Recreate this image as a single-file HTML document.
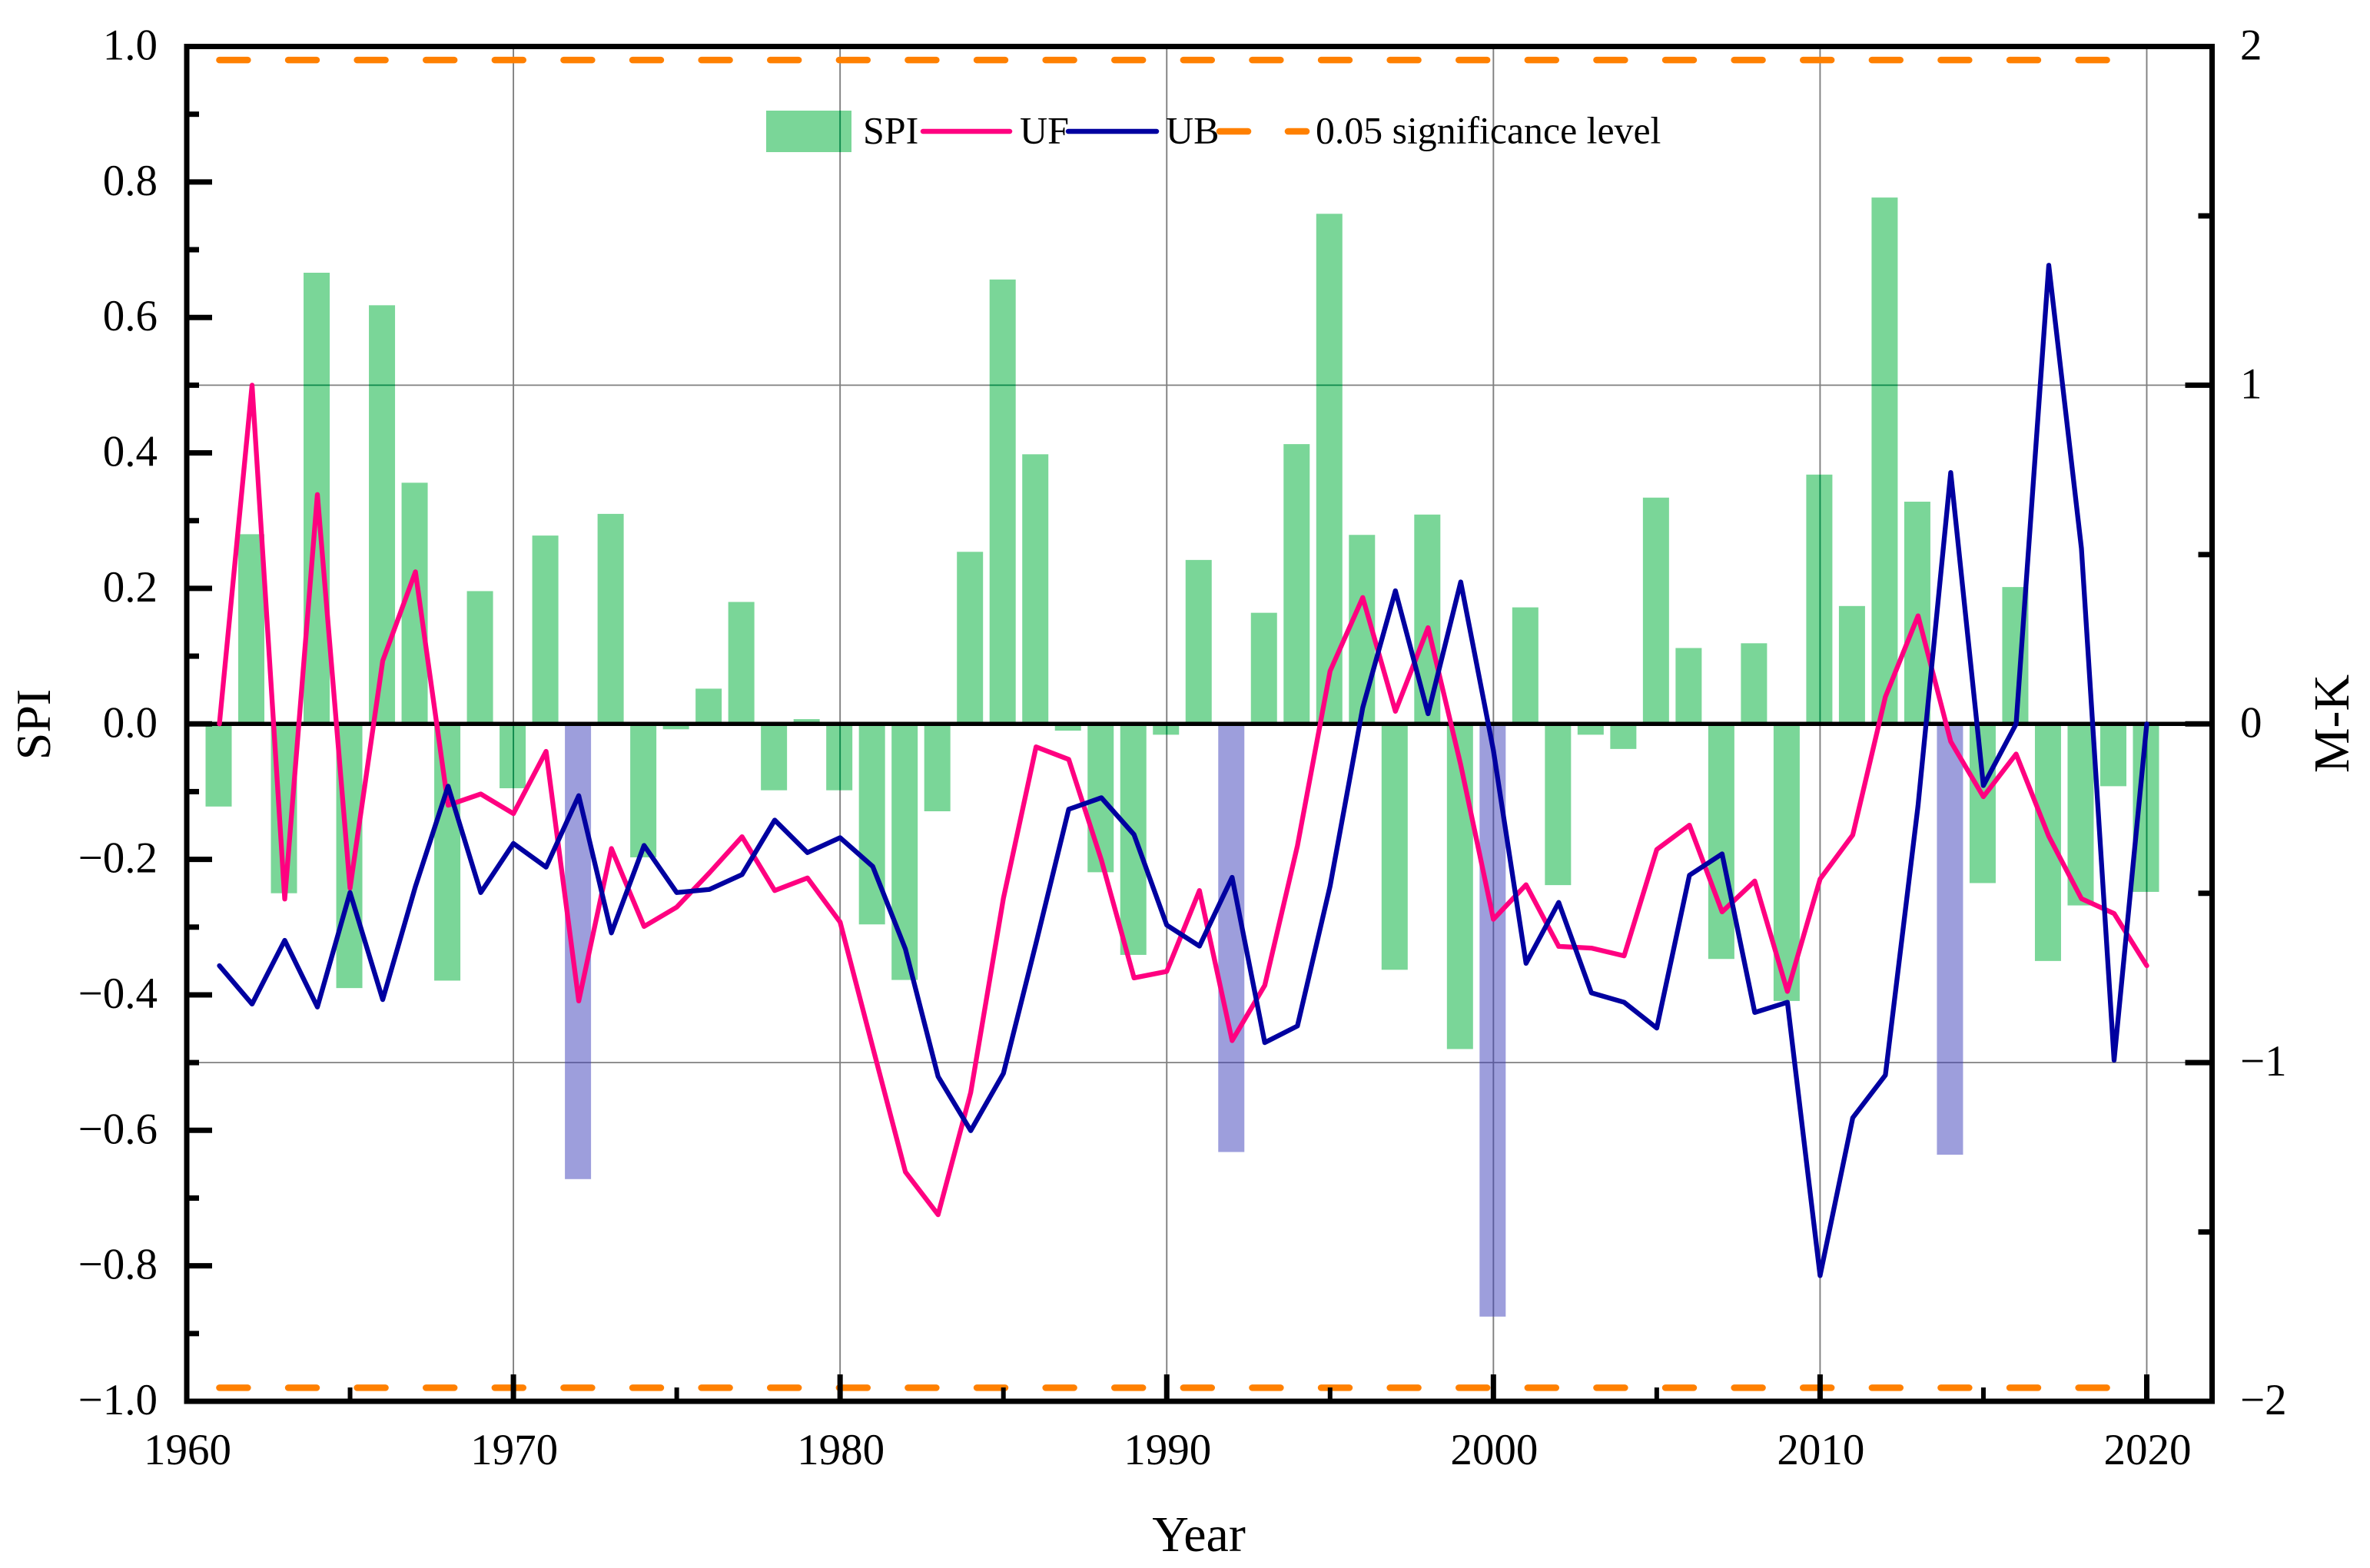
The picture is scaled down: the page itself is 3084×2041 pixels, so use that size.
<!DOCTYPE html>
<html lang="en">
<head>
<meta charset="utf-8">
<title>SPI and M-K trend, 1961–2020</title>
<style>
  html, body { margin: 0; padding: 0; background: #fff; width: 3084px; height: 2041px; overflow: hidden; }
  svg { display: block; }
  text { font-family: "Liberation Serif", "Times New Roman", serif; fill: #000; }
</style>
</head>
<body>
<svg id="chart" xmlns="http://www.w3.org/2000/svg" width="3084" height="2041" viewBox="0 0 3084 2041">
  <rect x="0" y="0" width="3084" height="2041" fill="#ffffff"/>
  <defs>
    <clipPath id="green-clip"><rect x="997" y="144" width="111" height="54"/></clipPath>
    <clipPath id="purple-clip"></clipPath>
  </defs>
  <g id="grid"></g>
  <g id="bars"></g>
  <g>
    <rect x="997" y="144" width="111" height="54" fill="#7AD698"/>
  </g>
  <g id="grid-green" clip-path="url(#green-clip)"></g>
  <g id="grid-purple" clip-path="url(#purple-clip)"></g>
  <g id="zero"></g>
  <g id="series"></g>
  <g id="axes"></g>
  <g font-size="50">
    <text x="1123" y="186.5" font-size="50">SPI</text>
    <line x1="1201" y1="171" x2="1314" y2="171" stroke="#FF0080" stroke-width="6.5" stroke-linecap="round"/>
    <text x="1327" y="186.5" font-size="50">UF</text>
    <line x1="1390" y1="171" x2="1505" y2="171" stroke="#0000A0" stroke-width="6.5" stroke-linecap="round"/>
    <text x="1517" y="186.5" font-size="50">UB</text>
    <line x1="1587" y1="171" x2="1624" y2="171" stroke="#FF8000" stroke-width="8.6" stroke-linecap="round"/>
    <line x1="1676" y1="171" x2="1700" y2="171" stroke="#FF8000" stroke-width="8.6" stroke-linecap="round"/>
    <text x="1712" y="186.5" font-size="49.8">0.05 significance level</text>
  </g>
  <text x="1560" y="2019" font-size="66" text-anchor="middle">Year</text>
  <text transform="translate(65 943) rotate(-90)" font-size="64" text-anchor="middle">SPI</text>
  <text transform="translate(3056 942) rotate(-90)" font-size="66" text-anchor="middle">M-K</text>
</svg>
<script>
// ---- chart data ----
const years = [1961,1962,1963,1964,1965,1966,1967,1968,1969,1970,1971,1972,1973,1974,1975,1976,1977,1978,1979,1980,1981,1982,1983,1984,1985,1986,1987,1988,1989,1990,1991,1992,1993,1994,1995,1996,1997,1998,1999,2000,2001,2002,2003,2004,2005,2006,2007,2008,2009,2010,2011,2012,2013,2014,2015,2016,2017,2018,2019,2020];
const spiValues = [-0.122,0.280,-0.250,0.666,-0.390,0.618,0.356,-0.379,0.196,-0.095,0.278,-0.672,0.310,-0.197,-0.008,0.052,0.180,-0.098,0.007,-0.098,-0.296,-0.378,-0.129,0.254,0.656,0.398,-0.010,-0.219,-0.341,-0.016,0.242,-0.632,0.164,0.413,0.753,0.279,-0.363,0.309,-0.480,-0.875,0.172,-0.238,-0.016,-0.037,0.334,0.112,-0.347,0.119,-0.409,0.368,0.174,0.777,0.328,-0.636,-0.235,0.202,-0.350,-0.268,-0.092,-0.248];
const ufValues = [0,1.0,-0.517,0.677,-0.485,0.186,0.449,-0.24,-0.207,-0.265,-0.081,-0.818,-0.368,-0.598,-0.541,-0.44,-0.333,-0.492,-0.455,-0.585,-0.955,-1.323,-1.449,-1.088,-0.515,-0.068,-0.105,-0.402,-0.75,-0.731,-0.492,-0.935,-0.772,-0.36,0.156,0.373,0.037,0.284,-0.121,-0.577,-0.475,-0.657,-0.662,-0.685,-0.371,-0.299,-0.555,-0.464,-0.79,-0.458,-0.328,0.08,0.319,-0.052,-0.215,-0.089,-0.332,-0.516,-0.56,-0.714];
const ubValues = [-0.714,-0.827,-0.639,-0.836,-0.498,-0.814,-0.48,-0.184,-0.498,-0.353,-0.423,-0.212,-0.617,-0.359,-0.498,-0.489,-0.445,-0.284,-0.38,-0.336,-0.421,-0.665,-1.041,-1.201,-1.032,-0.647,-0.252,-0.218,-0.327,-0.594,-0.656,-0.453,-0.941,-0.892,-0.479,0.048,0.393,0.03,0.419,-0.078,-0.707,-0.527,-0.794,-0.822,-0.898,-0.447,-0.384,-0.852,-0.822,-1.629,-1.163,-1.037,-0.241,0.742,-0.182,0,1.354,0.518,-0.993,0];
const highlightYears = [1972,1992,2000,2014];
const significanceLevels = [0.98,-0.98];
const xTickLabels = ["1960","1970","1980","1990","2000","2010","2020"];
const leftTickLabels = ["1.0","0.8","0.6","0.4","0.2","0.0","−0.2","−0.4","−0.6","−0.8","−1.0"];
const rightTickLabels = ["2","1","0","−1","−2"];

// ---- axis functions ----
const plotLeft = 243, plotRight = 2878.5, plotTop = 60.5, plotBottom = 1824;
const xDomain = [1960, 2022], spiDomain = [-1, 1], mkDomain = [-2, 2];
function xScale(v) { return plotLeft + (v - xDomain[0]) / (xDomain[1] - xDomain[0]) * (plotRight - plotLeft); }
function ySpi(v) { return plotBottom - (v - spiDomain[0]) / (spiDomain[1] - spiDomain[0]) * (plotBottom - plotTop); }
function yMk(v) { return plotBottom - (v - mkDomain[0]) / (mkDomain[1] - mkDomain[0]) * (plotBottom - plotTop); }

const NS = 'http://www.w3.org/2000/svg';
function make(tag, parent, props) {
  const el = document.createElementNS(NS, tag);
  for (const k in props) el.setAttribute(k, props[k]);
  parent.appendChild(el);
  return el;
}
function uiNumber(s) { return parseFloat(s.replace('−', '-')); }

// grid lines (plain, then tinted copies where they cross the bars)
function drawGrid(parent, color) {
  xTickLabels.slice(1).forEach(function (label) {
    const el = make('line', parent, { x1: xScale(+label), x2: xScale(+label), y1: plotTop, y2: plotBottom, stroke: color, 'stroke-width': 1.9 });
    
    
  });
  [1, -1].forEach(function (mk) {
    const el = make('line', parent, { x1: plotLeft, x2: plotRight, y1: yMk(mk), y2: yMk(mk), stroke: color, 'stroke-width': 1.7 });
    
    
  });
}
drawGrid(document.getElementById('grid'), '#808080');
drawGrid(document.getElementById('grid-green'), '#0E8A4C');
drawGrid(document.getElementById('grid-purple'), '#5E5E9C');

// bars
const barsGroup = document.getElementById('bars');
const greenClip = document.getElementById('green-clip');
const purpleClip = document.getElementById('purple-clip');
const barWidth = 34;
years.forEach(function (year, i) {
  const v = spiValues[i];
  const top = Math.min(ySpi(v), ySpi(0));
  const h = Math.abs(ySpi(v) - ySpi(0));
  const x = xScale(year) - barWidth / 2 - 1;
  const isHighlight = highlightYears.indexOf(year) >= 0;
  const bar = make('rect', barsGroup, { x: x, y: top, width: barWidth, height: h, fill: isHighlight ? '#9D9EDC' : '#7AD698' });
  
  
  make('rect', isHighlight ? purpleClip : greenClip, { x: x, y: top, width: barWidth, height: h });
});

// zero line
const zeroLine = make('line', document.getElementById('zero'), { x1: plotLeft, x2: plotRight, y1: ySpi(0), y2: ySpi(0), stroke: '#000', 'stroke-width': 5.5 });



// series lines
const seriesGroup = document.getElementById('series');
function polyPoints(values) {
  return values.map(function (v, i) { return xScale(years[i]).toFixed(1) + ',' + yMk(v).toFixed(1); }).join(' ');
}
const ufLine = make('polyline', seriesGroup, { points: polyPoints(ufValues), fill: 'none', stroke: '#FF0080', 'stroke-width': 6.3, 'stroke-linejoin': 'round', 'stroke-linecap': 'round' });


const ubLine = make('polyline', seriesGroup, { points: polyPoints(ubValues), fill: 'none', stroke: '#0000A0', 'stroke-width': 6.3, 'stroke-linejoin': 'round', 'stroke-linecap': 'round' });



// significance lines
significanceLevels.forEach(function (level) {
  const el = make('line', seriesGroup, { x1: xScale(years[0]), x2: xScale(years[years.length - 1]), y1: ySpi(level), y2: ySpi(level), stroke: '#FF8000', 'stroke-width': 8.6, 'stroke-linecap': 'round', 'stroke-dasharray': '36.8 52.8' });
  
  
});

// axes
const axes = document.getElementById('axes');
const frame = make('rect', axes, { x: plotLeft, y: plotTop, width: plotRight - plotLeft, height: plotBottom - plotTop, fill: 'none', stroke: '#000', 'stroke-width': 7 });



const fontSize = 57;
// left axis ticks
leftTickLabels.forEach(function (label) {
  const v = uiNumber(label);
  const y = ySpi(v);
  const tick = make('line', axes, { x1: plotLeft, x2: plotLeft + 33, y1: y, y2: y, stroke: '#000', 'stroke-width': 7 });
  
  
  const t = make('text', axes, { x: 205, y: y + 17, 'text-anchor': 'end', 'font-size': fontSize });
  t.textContent = label;
  
  
  if (v > -1) {
    const yMinor = ySpi(v - 0.1);
    const minor = make('line', axes, { x1: plotLeft, x2: plotLeft + 16, y1: yMinor, y2: yMinor, stroke: '#000', 'stroke-width': 7 });
    
    
  }
});
// right axis ticks
rightTickLabels.forEach(function (label) {
  const v = uiNumber(label);
  const y = yMk(v);
  const tick = make('line', axes, { x1: plotRight - 35, x2: plotRight, y1: y, y2: y, stroke: '#000', 'stroke-width': 7 });
  
  
  const t = make('text', axes, { x: 2915, y: y + 17, 'font-size': fontSize });
  t.textContent = label;
  
  
  if (v > -2) {
    const yMinor = yMk(v - 0.5);
    const minor = make('line', axes, { x1: plotRight - 18, x2: plotRight, y1: yMinor, y2: yMinor, stroke: '#000', 'stroke-width': 7 });
    
    
  }
});
// x axis ticks
xTickLabels.forEach(function (label, i) {
  const v = +label;
  const x = xScale(v);
  const tick = make('line', axes, { x1: x, x2: x, y1: plotBottom - 35, y2: plotBottom, stroke: '#000', 'stroke-width': 7 });
  
  
  const t = make('text', axes, { x: x + 1, y: 1906, 'text-anchor': 'middle', 'font-size': fontSize });
  t.textContent = label;
  
  
  if (i < xTickLabels.length - 1) {
    const xMinor = xScale(v + 5);
    const minor = make('line', axes, { x1: xMinor, x2: xMinor, y1: plotBottom - 18, y2: plotBottom, stroke: '#000', 'stroke-width': 6 });
    
    
  }
});
</script>
</body>
</html>
